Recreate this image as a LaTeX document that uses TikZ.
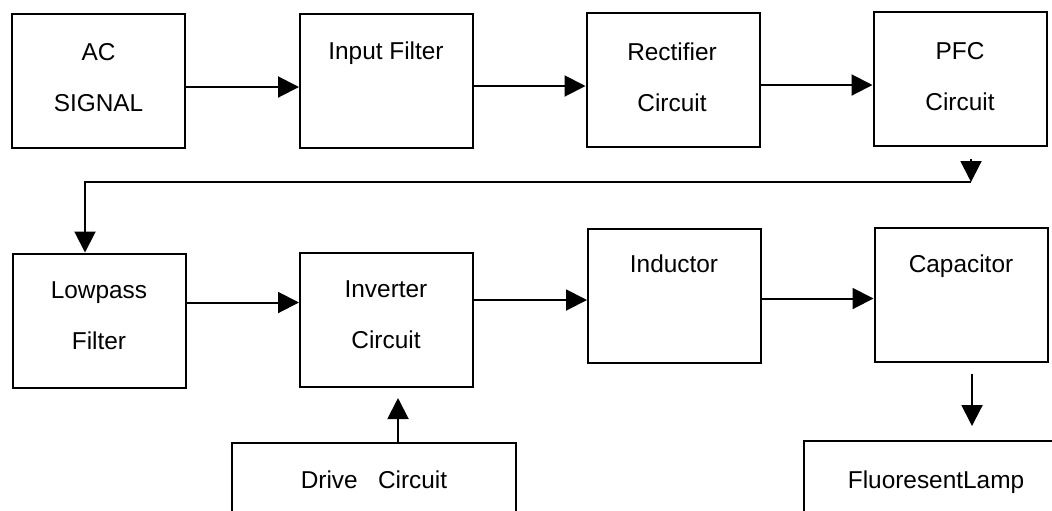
\documentclass[tikz,border=0pt]{standalone}
\usepackage{fontspec}
\setmainfont{Liberation Sans}
\usetikzlibrary{arrows.meta, positioning}

\begin{document}
\begin{tikzpicture}[
	x=0.5pt, y=-0.5pt,
	>={Triangle[length=10.5pt, width=10.5pt]},
	font=\fontsize{12.2}{25.5}\selectfont,
	% Styles
	blockbox/.style={draw, line width=1pt, inner sep=0pt, minimum width=86.5pt, minimum height=67pt},
	blocktext/.style={align=center, inner sep=0pt},
	signal/.style={->, line width=1pt}
	]
	
	\useasboundingbox (0,0) rectangle (1052,510);
	\clip (0,0) rectangle (1052,510);
	
	% ==========================================
	% TOP ROW: AC input to PFC
	% ==========================================
	
	\node[blockbox] (acBox) at (98.5,81) {};
	\node[blocktext] (acText) at (98.5,77.5) {AC\\SIGNAL};
	
	\node[blockbox] (inpBox) at (386.5,81) {};
	\node[blocktext] (inpText) at (386,53.5) {Input Filter};
	
	\node[blockbox] (recBox) at (673,80) {};
	\node[blocktext] (recText) at (672,77.5) {Rectifier\\Circuit};
	
	\node[blockbox] (pfcBox) at (960,79) {};
	\node[blocktext] (pfcText) at (960,77) {PFC\\Circuit};
	
	\draw[signal] ([yshift=-3pt]acBox.east) -- ([yshift=-3pt]acBox.east -| inpBox.west);
	\draw[signal] ([yshift=-2.5pt]inpBox.east) -- ([yshift=-2.5pt]inpBox.east -| recBox.west);
	\draw[signal] ([yshift=-2.5pt]recBox.east) -- ([yshift=-2.5pt]recBox.east -| pfcBox.west);
	
	% Return path down to the second row
	\coordinate (pfcTurn) at (971,182);
	\draw[signal] ([xshift=5.5pt,yshift=-6pt]pfcBox.south) -- (pfcTurn);
	
	% ==========================================
	% BOTTOM ROW: Lowpass filter to lamp
	% ==========================================
	
	\node[blockbox] (lpBox) at (99,320.5) {};
	\node[blocktext] (lpText) at (99,315.5) {Lowpass\\Filter};
	
	\node[blockbox] (invBox) at (386.5,320) {};
	\node[blocktext] (invText) at (386,314.5) {Inverter\\Circuit};
	
	\node[blockbox] (indBox) at (674.5,295.5) {};
	\node[blocktext] (indText) at (674,264) {Inductor};
	
	\node[blockbox] (capBox) at (961,294.5) {};
	\node[blocktext] (capText) at (961,266.5) {Capacitor};
	
	\node[blockbox, minimum width=142pt, minimum height=37pt] (drvBox) at (374,480) {Drive~~~Circuit};
	\node[blockbox, minimum width=132pt, minimum height=41pt] (lampBox) at (936,482) {FluoresentLamp};
	
	\draw[signal] (pfcTurn) -| ([xshift=-7pt]lpBox.north);
	\draw[signal] ([yshift=9pt]lpBox.east) -- ([yshift=9pt]lpBox.east -| invBox.west);
	\draw[signal] ([yshift=10pt]invBox.east) -- ([yshift=10pt]invBox.east -| indBox.west);
	\draw[signal] ([yshift=-1.5pt]indBox.east) -- ([yshift=-1.5pt]indBox.east -| capBox.west);
	\draw[signal] ([xshift=5.5pt,yshift=-5.5pt]capBox.south) -- ([xshift=5.5pt,yshift=7pt]capBox.south |- lampBox.north);
	\draw[signal] ([xshift=12pt]drvBox.north) -- ([xshift=12pt,yshift=-5pt]drvBox.north |- invBox.south);
	
\end{tikzpicture}
\end{document}
